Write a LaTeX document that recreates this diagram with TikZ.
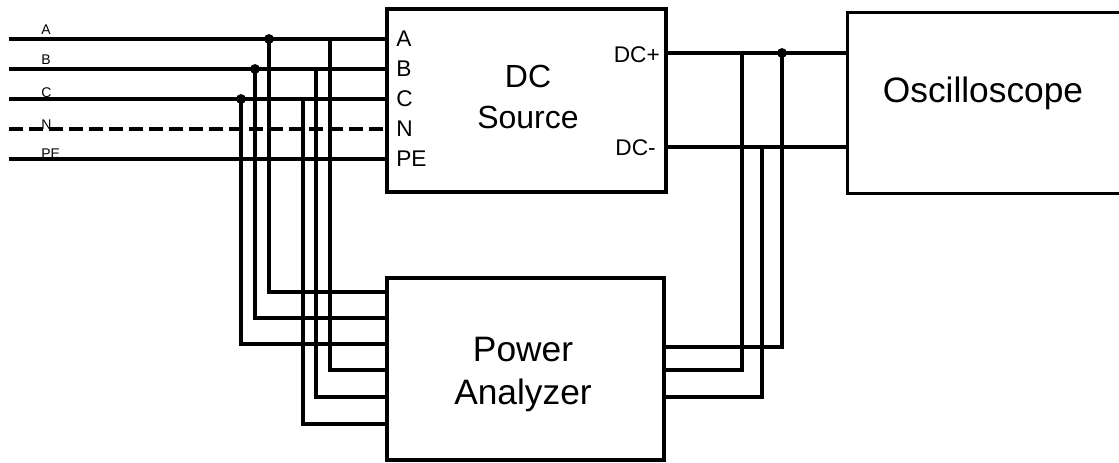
\documentclass[tikz,border=0pt]{standalone}
\usepackage{fontspec}
\setmainfont{Liberation Sans}
\usetikzlibrary{positioning}

\begin{document}
\begin{tikzpicture}[
    x=0.75pt, y=-0.75pt,
    wire/.style={line width=2.4pt},
    nwire/.style={wire, dash pattern=on 10.5pt off 4.5pt},
    unit/.style={draw, line width=2.4pt, inner sep=0pt},
    big/.style={font=\fontsize{26.5}{32.25}\selectfont, align=center, inner sep=0pt},
    port/.style={font=\fontsize{17}{20}\selectfont, inner sep=0pt},
    tag/.style={font=\fontsize{10.5}{12}\selectfont, inner sep=0pt, anchor=base west}
]
\useasboundingbox (0,0) rectangle (1119,463);
\fill[white] (0,0) rectangle (1119,463);
\clip (0,0) rectangle (1119,463);

% units
\node[unit, minimum width=209.25pt, minimum height=137.25pt] (src) at (526.5,100.5) {};
\node[unit, minimum width=207.75pt, minimum height=136.5pt] (pa) at (525.5,369) {};
\node[unit, minimum width=235.5pt, minimum height=135.75pt, anchor=north west] (osc) at (846,11) {};

\node[big, font=\fontsize{24}{30.75}\selectfont] (srctxt) at (528,96.5) {DC\\Source};
\node[big] (patxt) at (523,375) {Power\\Analyzer};
\node[big] (osctxt) at (983,93) {Oscilloscope};

% mains lines
\foreach \n/\y/\b in {A/39/35, B/69/65, C/99/98, N/129/130, PE/159/159} {
  \coordinate (l\n) at (9,\y);
  \node[tag] (t\n) at (41,\b) {\n};
  \node[port, anchor=west] (p\n) at (396,\y) {\n};
}
\foreach \n in {A, B, C, PE}
  \draw[wire] (l\n) -- (l\n -| src.west);
\draw[nwire] (lN) -- (lN -| src.west);

% taps to the power analyzer
\foreach \n/\x/\y in {A/269/292, B/255/318, C/241/344} {
  \draw[wire] (l\n -| \x,0) |- (pa.west |- 0,\y);
  \fill (l\n -| \x,0) circle[radius=3.7pt];
}
\foreach \n/\x/\y in {A/330/370, B/316/397, C/303/424}
  \draw[wire] (l\n -| \x,0) |- (pa.west |- 0,\y);

% dc side
\coordinate (dcp) at (src.east |- 0,53);
\coordinate (dcm) at (src.east |- 0,147);
\node[port, anchor=east] (pdcp) at (660,55) {DC+};
\node[port, anchor=east] (pdcm) at (656,148) {DC-};
\draw[wire] (dcp) -- (dcp -| osc.west);
\draw[wire] (dcm) -- (dcm -| osc.west);
\foreach \c/\x/\y in {dcp/782/347, dcp/742/370, dcm/762/397}
  \draw[wire] (\c -| \x,0) |- (pa.east |- 0,\y);
\fill (dcp -| 782,0) circle[radius=3.7pt];
\end{tikzpicture}
\end{document}
